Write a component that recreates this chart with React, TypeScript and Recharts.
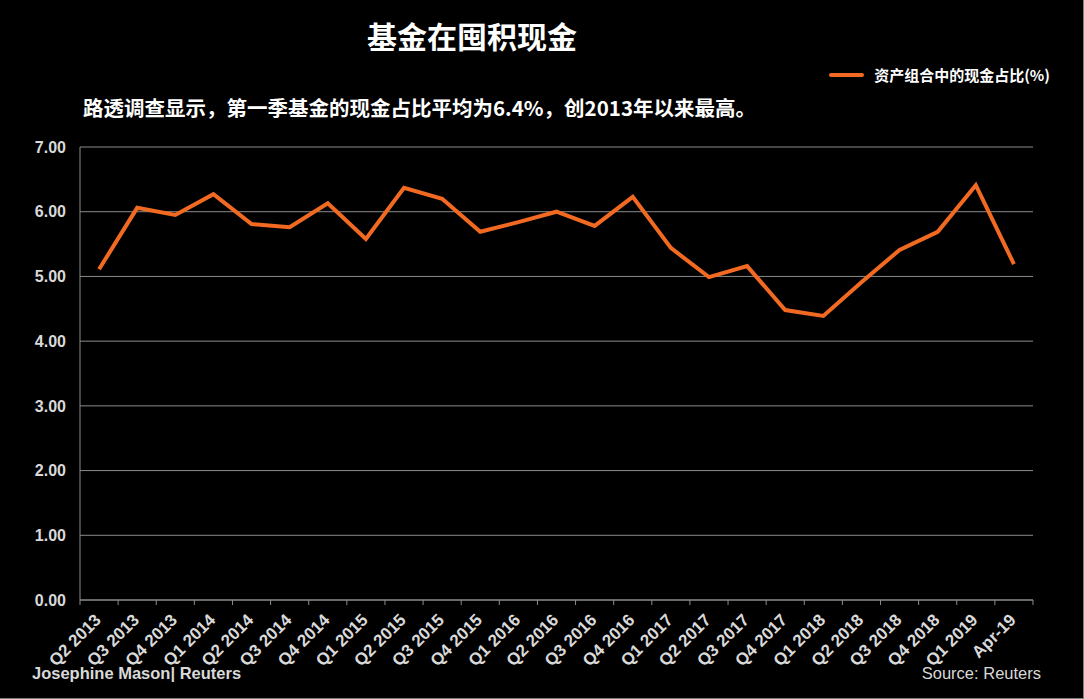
import React from 'react';
import { LineChart, Line, XAxis, YAxis, CartesianGrid } from 'recharts';

const quarters = [
  'Q2 2013', 'Q3 2013', 'Q4 2013',
  'Q1 2014', 'Q2 2014', 'Q3 2014', 'Q4 2014',
  'Q1 2015', 'Q2 2015', 'Q3 2015', 'Q4 2015',
  'Q1 2016', 'Q2 2016', 'Q3 2016', 'Q4 2016',
  'Q1 2017', 'Q2 2017', 'Q3 2017', 'Q4 2017',
  'Q1 2018', 'Q2 2018', 'Q3 2018', 'Q4 2018',
  'Q1 2019', 'Apr-19',
];

const cashShare = [
  5.11, 6.06, 5.95,
  6.27, 5.81, 5.76, 6.13,
  5.58, 6.37, 6.20, 5.69,
  5.84, 6.00, 5.78, 6.23,
  5.44, 4.99, 5.16, 4.48,
  4.39, 4.91, 5.41, 5.69,
  6.41, 5.19,
];

const yTicks = [0, 1, 2, 3, 4, 5, 6, 7];

const seriesName = '资产组合中的现金占比(%)';

const data = quarters.map((q, i) => ({ quarter: q, cash: cashShare[i] }));

const FONT = '"Liberation Sans", Arial, "Noto Sans CJK SC", sans-serif';
const CJK = '"Noto Sans CJK SC", "Liberation Sans", sans-serif';

// plot box
const W = 1084;
const H = 699;
const M = { top: 147, right: 51, left: 80, bottom: 99 };
const plotW = W - M.left - M.right;
const half = plotW / quarters.length / 2;

// excel style: ticks sit between categories, labels at the category
const XTick = (props: any) => {
  const { x, y, payload, index } = props;
  const last = index === quarters.length - 1;
  return (
    <g>
      <line x1={x - half} x2={x - half} y1={y} y2={y + 5} stroke="#8c8c8c" />
      {last && <line x1={x + half} x2={x + half} y1={y} y2={y + 5} stroke="#8c8c8c" />}
      <g transform={`translate(${x + 3},${y + 21})`}>
        <text
          textAnchor="end"
          transform="rotate(-45)"
          fill="#d9d9d9"
          fontSize={17}
          fontWeight="bold"
          fontFamily={FONT}
        >
          {payload.value}
        </text>
      </g>
    </g>
  );
};

export default function App() {
  return (
    <div
      style={{
        position: 'fixed',
        left: 0,
        top: 0,
        width: W,
        height: H,
        background: '#000',
        boxSizing: 'border-box',
        borderRight: '1px solid #7f7f7f',
        borderBottom: '1px solid #7f7f7f',
        overflow: 'hidden',
      }}
    >
      <div style={{ position: 'absolute', left: 0, width: 944, top: 13, textAlign: 'center', color: '#fff', fontFamily: CJK, fontWeight: 'bold', fontSize: 30 }}>
        基金在囤积现金
      </div>
      <div style={{ position: 'absolute', left: 83, top: 92, color: '#fff', fontFamily: CJK, fontWeight: 'bold', fontSize: 20.5 }}>
        路透调查显示，第一季基金的现金占比平均为6.4%，创2013年以来最高。
      </div>
      <div style={{ position: 'absolute', right: 33, top: 64, display: 'flex', alignItems: 'center', fontFamily: CJK, fontWeight: 'bold', fontSize: 15, color: '#fff' }}>
        <span style={{ display: 'inline-block', width: 35, height: 4, background: '#F26A21', borderRadius: 2, marginRight: 10 }} />
        {seriesName}
      </div>
      <div style={{ position: 'absolute', left: 0, top: 0 }}>
        <LineChart width={W} height={H} data={data} margin={{ top: M.top, right: M.right, bottom: 0, left: 0 }}>
          <CartesianGrid horizontal vertical={false} stroke="#8c8c8c" strokeWidth={1} />
          <XAxis
            dataKey="quarter"
            interval={0}
            height={M.bottom}
            padding={{ left: half, right: half }}
            stroke="#8c8c8c"
            tickLine={false}
            tickSize={0}
            tickMargin={0}
            tick={<XTick />}
          />
          <YAxis
            domain={[0, 7]}
            ticks={yTicks}
            width={M.left}
            stroke="#8c8c8c"
            tickLine={false}
            tickSize={0}
            tickMargin={14}
            tickFormatter={(v: number) => v.toFixed(2)}
            tick={{ fill: '#d9d9d9', fontSize: 16, fontWeight: 'bold', fontFamily: FONT }}
          />
          <Line
            type="linear"
            dataKey="cash"
            name={seriesName}
            stroke="#F26A21"
            strokeWidth={4}
            dot={false}
            isAnimationActive={false}
          />
        </LineChart>
      </div>
      <div style={{ position: 'absolute', left: 32, top: 664, color: '#d9d9d9', fontFamily: FONT, fontWeight: 'bold', fontSize: 16.5 }}>
        Josephine Mason| Reuters
      </div>
      <div style={{ position: 'absolute', right: 42, top: 664, color: '#d9d9d9', fontFamily: FONT, fontSize: 16.5 }}>
        Source: Reuters
      </div>
    </div>
  );
}
